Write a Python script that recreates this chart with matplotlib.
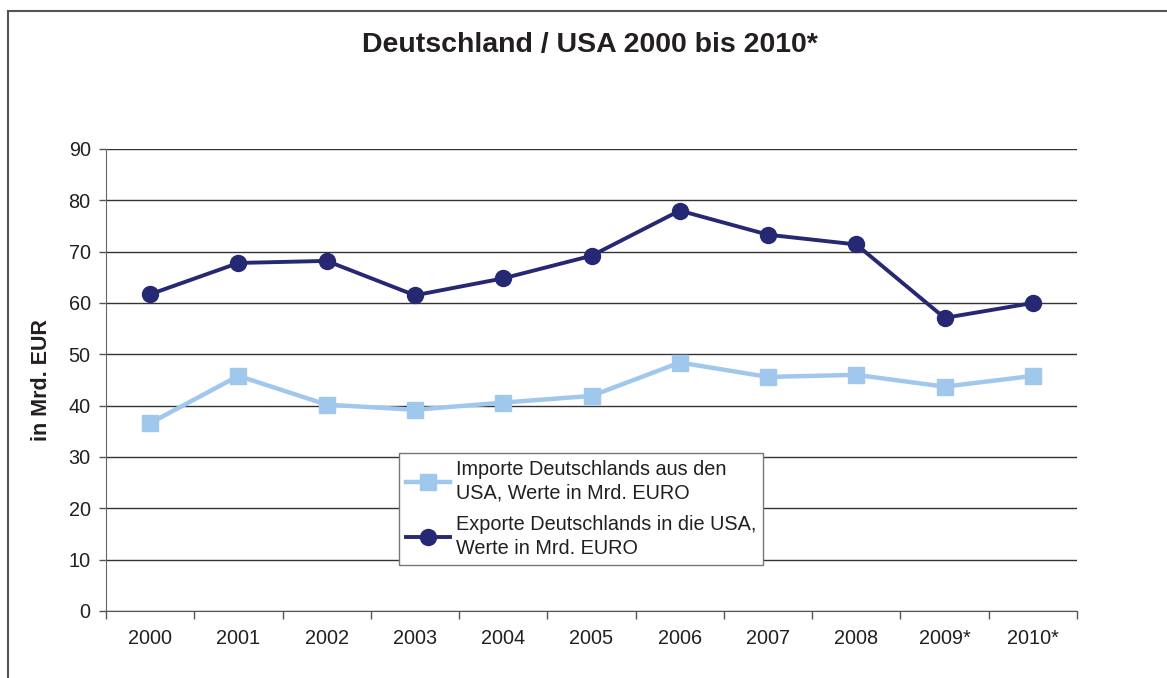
import matplotlib
matplotlib.use("Agg")
from matplotlib import pyplot as plt
from matplotlib.lines import Line2D
import numpy as np

plt.rcParams['font.family'] = ['Liberation Sans', 'DejaVu Sans']

years = ["2000", "2001", "2002", "2003", "2004", "2005", "2006", "2007", "2008", "2009*", "2010*"]
importe = [36.6, 45.8, 40.2, 39.2, 40.6, 41.9, 48.4, 45.6, 46.0, 43.7, 45.8]
exporte = [61.7, 67.8, 68.2, 61.5, 64.8, 69.2, 78.0, 73.3, 71.4, 57.1, 60.0]

label_imp = "Importe Deutschlands aus den\nUSA, Werte in Mrd. EURO"
label_exp = "Exporte Deutschlands in die USA,\nWerte in Mrd. EURO"

textcol = "#231f20"

fig = plt.figure(figsize=(11.67, 6.78), dpi=100)
ax = fig.add_axes([106/1167, 1 - 611/678, (1077 - 106)/1167, (611 - 149)/678])

x = np.arange(len(years))
ax.plot(x, importe, color="#a0c8ec", lw=3.2, marker="s", markersize=11,
        label=label_imp, zorder=3)
ax.plot(x, exporte, color="#262873", lw=2.8, marker="o", markersize=11.5,
        label=label_exp, zorder=4)

ax.set_xlim(-0.5, len(years) - 0.5)
ax.set_ylim(0, 90)
ax.set_yticks(range(0, 91, 10))
ax.set_xticks(x)
ax.set_xticklabels(years)
ax.set_xticks(np.arange(-0.5, len(years), 1), minor=True)
ax.tick_params(axis="x", which="major", length=0, pad=13, labelsize=14.3, labelcolor=textcol)
ax.tick_params(axis="x", which="minor", length=6, width=1, color="#555555")
ax.tick_params(axis="y", length=5, width=1, color="#555555", pad=6, labelsize=14.3, labelcolor=textcol)

ax.grid(axis="y", color="#333333", lw=1)
ax.set_axisbelow(True)
for s in ["top", "right"]:
    ax.spines[s].set_visible(False)
ax.spines["left"].set_color("#666666")
ax.spines["bottom"].set_color("#555555")

ax.set_ylabel("in Mrd. EUR", fontsize=15.5, fontweight="bold", color=textcol, labelpad=12)

fig.text(590/1167, 1 - 45/678, "Deutschland / USA 2000 bis 2010*", ha="center", va="center",
         fontsize=20.5, fontweight="bold", color=textcol)

leg = ax.legend(loc="upper left", bbox_to_anchor=((399 - 106)/971, (611 - 453)/462),
                fontsize=14.3, frameon=True, fancybox=False, framealpha=1,
                handlelength=2.2, handletextpad=0.3, borderpad=0.35, labelspacing=0.65,
                borderaxespad=0)
leg.get_frame().set_edgecolor("#777777")
leg.get_frame().set_linewidth(1)
for t in leg.get_texts():
    t.set_color(textcol)
    t.set_linespacing(1.3)

# outer frame, clipped at right and bottom
fig.add_artist(Line2D([8/1167, 1.0], [1 - 11/678, 1 - 11/678], color="#555555", lw=1.5))
fig.add_artist(Line2D([8/1167, 8/1167], [0.0, 1 - 11/678], color="#555555", lw=1.5))

fig.savefig("out.png", dpi=100, facecolor="white")
